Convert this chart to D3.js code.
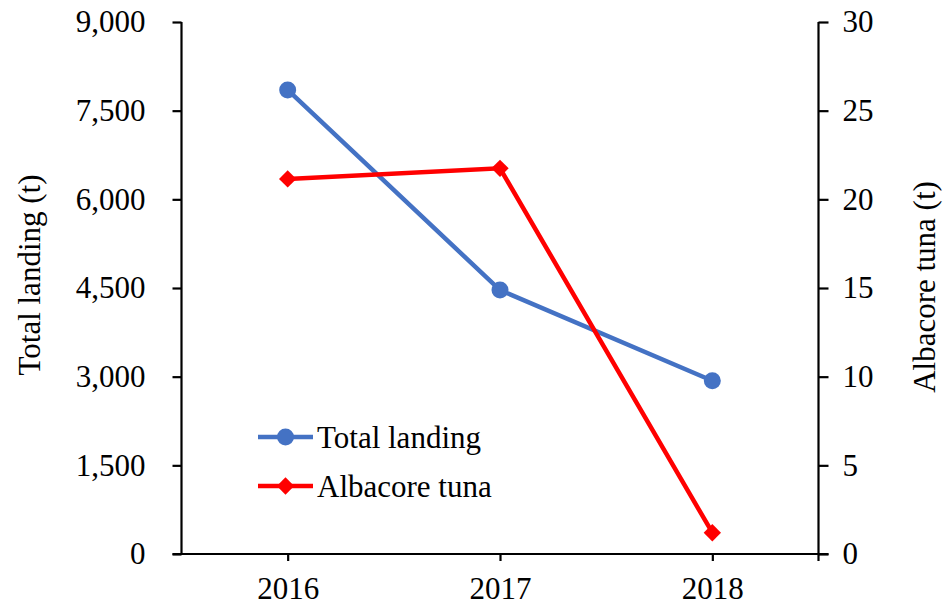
<!DOCTYPE html>
<html>
<head>
<meta charset="utf-8">
<script src="https://cdn.jsdelivr.net/npm/d3@7"></script>
<style>
  body { margin: 0; background: #fff; }
  text { font-family: "Liberation Serif", "Times New Roman", serif; fill: #000; }
</style>
</head>
<body>
<svg id="chart" width="943" height="606"></svg>
<script>
// data
var years = ["2016", "2017", "2018"];
var total_landing = [7850, 4465, 2930];
var albacore_tuna = [21.15, 21.75, 1.2];
var left_ticks = [0, 1500, 3000, 4500, 6000, 7500, 9000];
var right_ticks = [0, 5, 10, 15, 20, 25, 30];

(function(){
var svg = d3.select("#chart");
var pl = 181.5, pr = 818.5, pt = 22, pb = 554;
var fs = "31px";

var x = d3.scalePoint().domain(years).range([pl, pr]).padding(0.5);
var yL = d3.scaleLinear().domain([0, 9000]).range([pb, pt]);
var yR = d3.scaleLinear().domain([0, 30]).range([pb, pt]);

function style_axis(g){
    g.selectAll("path,line").attr("stroke", "#000").attr("stroke-width", 2.2);
    g.selectAll("text").style("font-size", fs).style("font-family", "'Liberation Serif', serif").attr("fill", "#000");
}

// x axis
var gx = svg.append("g").attr("transform", "translate(0," + pb + ")")
    .call(d3.axisBottom(x).tickSizeInner(7).tickSizeOuter(0).tickPadding(16));
style_axis(gx);
gx.select(".domain").attr("d", "M" + (pl - 9) + ",0H" + (pr + 10));
gx.selectAll("text").attr("dy", "0.71em");

// left axis
var gl = svg.append("g").attr("transform", "translate(" + pl + ",0)")
    .call(d3.axisLeft(yL).tickValues(left_ticks).tickFormat(d3.format(",")).tickSizeInner(9).tickSizeOuter(0).tickPadding(27));
style_axis(gl);
gl.select(".domain").attr("d", "M0," + pt + "V" + pb);

// right axis
var gr = svg.append("g").attr("transform", "translate(" + pr + ",0)")
    .call(d3.axisRight(yR).tickValues(right_ticks).tickSizeInner(10).tickSizeOuter(0).tickPadding(14));
style_axis(gr);
gr.select(".domain").attr("d", "M0," + pt + "V" + (pb + 7));

// axis titles
svg.append("text")
    .attr("transform", "translate(40,275) rotate(-90)")
    .attr("text-anchor", "middle")
    .style("font-size", fs)
    .text("Total landing (t)");
svg.append("text")
    .attr("transform", "translate(935,287) rotate(-90)")
    .attr("text-anchor", "middle")
    .style("font-size", fs)
    .text("Albacore tuna (t)");

var blue = "#4472C4", red = "#FF0000";
var diamond = d3.symbol().type(d3.symbolSquare).size(150);

var blue_pts = years.map(function(d, i){ return [x(d), yL(total_landing[i])]; });
var red_pts = years.map(function(d, i){ return [x(d), yR(albacore_tuna[i])]; });

svg.append("path").attr("d", d3.line()(blue_pts))
    .attr("fill", "none").attr("stroke", blue).attr("stroke-width", 4.5);
svg.append("g").selectAll("circle").data(blue_pts).enter().append("circle")
    .attr("cx", function(d){ return d[0]; })
    .attr("cy", function(d){ return d[1]; })
    .attr("r", 8.5).attr("fill", blue);

svg.append("path").attr("d", d3.line()(red_pts))
    .attr("fill", "none").attr("stroke", red).attr("stroke-width", 4.5);
svg.append("g").selectAll("path").data(red_pts).enter().append("path")
    .attr("d", function(){ return diamond(); })
    .attr("transform", function(d){ return "translate(" + d[0] + "," + d[1] + ") rotate(45)"; })
    .attr("fill", red);

// legend
var legend = [{name: "Total landing", color: blue, kind: "circle", y: 437},
              {name: "Albacore tuna", color: red, kind: "diamond", y: 486}];
legend.forEach(function(l){
    var g = svg.append("g");
    g.append("line").attr("x1", 258).attr("x2", 313).attr("y1", l.y).attr("y2", l.y)
        .attr("stroke", l.color).attr("stroke-width", 4.5);
    if (l.kind == "circle")
        g.append("circle").attr("cx", 285.5).attr("cy", l.y).attr("r", 8.5).attr("fill", l.color);
    else
        g.append("path").attr("d", diamond()).attr("transform", "translate(285.5," + l.y + ") rotate(45)").attr("fill", l.color);
    g.append("text").attr("x", 317).attr("y", l.y).attr("dy", "0.35em")
        .style("font-size", fs).text(l.name);
});
})();
</script>
</body>
</html>
